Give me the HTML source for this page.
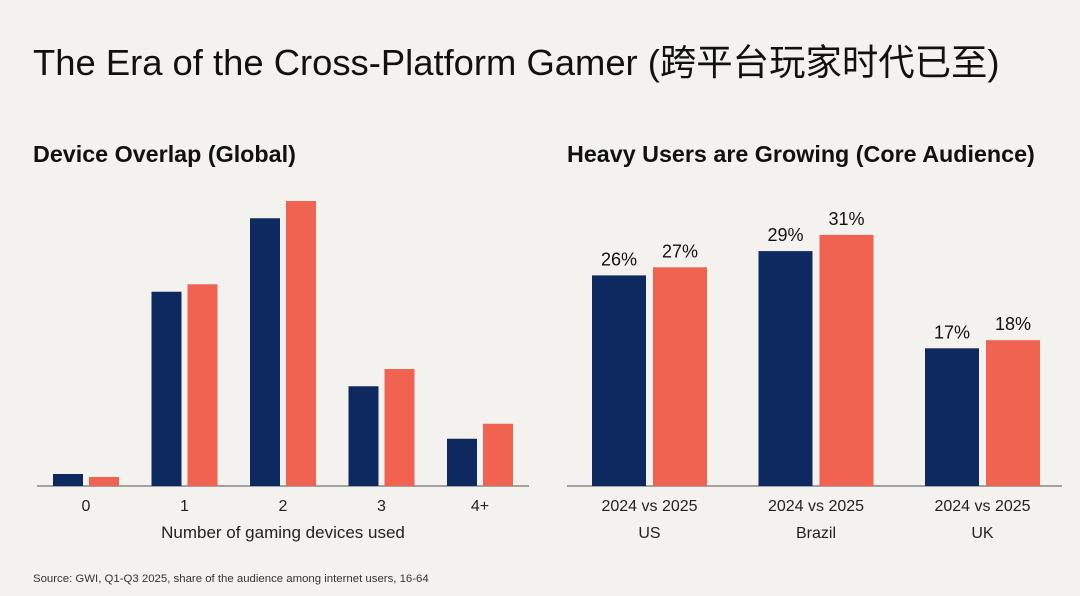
<!DOCTYPE html>
<html><head><meta charset="utf-8"><style>
body{margin:0;background:#f3f2ee;}
svg{display:block;font-family:"Liberation Sans","Noto Sans CJK SC",sans-serif;}
</style></head><body>
<svg id="c" width="1080" height="596" viewBox="0 0 1080 596">
<rect width="1080" height="596" fill="#f3f2ee"/>
<text x="33" y="75" font-size="36.4" fill="#111">The Era of the Cross-Platform Gamer (跨平台玩家时代已至)</text>
<text x="33" y="162" font-size="23.3" font-weight="bold" fill="#111">Device Overlap (Global)</text>
<text x="567" y="162" font-size="23.3" font-weight="bold" fill="#111">Heavy Users are Growing (Core Audience)</text>
<text x="283" y="538" font-size="17" fill="#222" text-anchor="middle">Number of gaming devices used</text>
<text x="33" y="582" font-size="11.4" fill="#333">Source: GWI, Q1-Q3 2025, share of the audience among internet users, 16-64</text>
<line x1="37" y1="486" x2="529" y2="486" stroke="#888" stroke-width="1.5"/>
<line x1="567" y1="486" x2="1062" y2="486" stroke="#888" stroke-width="1.5"/>
<g id="left"></g><g id="right"></g>
</svg>
<script>
const devCats = ["0","1","2","3","4+"];
const dev2024 = [1.6,25.9,35.7,13.3,6.3];
const dev2025 = [1.2,26.9,38.0,15.6,8.3];
const hvCats = ["US","Brazil","UK"];
const hv2024 = [26,29,17];
const hv2025 = [27,31,18];
const NAVY="#0d2960", CORAL="#f06351", NS="http://www.w3.org/2000/svg";
function mk(tag,attrs,parent,txt){const e=document.createElementNS(NS,tag);for(const k in attrs)e.setAttribute(k,attrs[k]);if(txt!==undefined)e.textContent=txt;parent.appendChild(e);return e;}
const base=486;
const L=document.getElementById('left');
const lx=i=>86+i*98.5, ly=v=>base-v*7.5;
devCats.forEach((c,i)=>{
  const a=mk('rect',{x:lx(i)-33,y:ly(dev2024[i]),width:30,height:base-ly(dev2024[i]),fill:NAVY},L);
  
  
  const b=mk('rect',{x:lx(i)+3,y:ly(dev2025[i]),width:30,height:base-ly(dev2025[i]),fill:CORAL},L);
  
  
  const t=mk('text',{x:lx(i),y:511,'font-size':16,fill:'#222','text-anchor':'middle'},L,c);
  
  
});
const R=document.getElementById('right');
const rx=i=>649.5+i*166.5, ry=v=>base-v*8.1;
hvCats.forEach((c,i)=>{
  const a=mk('rect',{x:rx(i)-57.5,y:ry(hv2024[i]),width:54,height:base-ry(hv2024[i]),fill:NAVY},R);
  
  
  const b=mk('rect',{x:rx(i)+3.5,y:ry(hv2025[i]),width:54,height:base-ry(hv2025[i]),fill:CORAL},R);
  
  
  const va=mk('text',{x:rx(i)-30.5,y:ry(hv2024[i])-10,'font-size':18,fill:'#111','text-anchor':'middle'},R,hv2024[i]+'%');
  
  
  const vb=mk('text',{x:rx(i)+30.5,y:ry(hv2025[i])-10,'font-size':18,fill:'#111','text-anchor':'middle'},R,hv2025[i]+'%');
  
  
  const t1=mk('text',{x:rx(i),y:511,'font-size':16,fill:'#222','text-anchor':'middle'},R,'2024 vs 2025');
  
  
  const t2=mk('text',{x:rx(i),y:538,'font-size':16,fill:'#222','text-anchor':'middle'},R,c);
  
  
});
</script>
</body></html>
